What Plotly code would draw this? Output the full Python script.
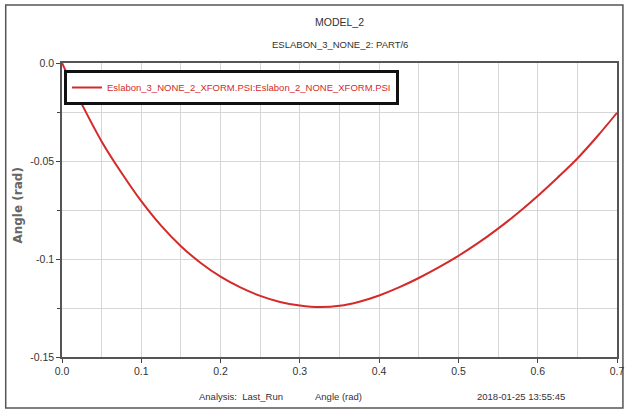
import plotly.graph_objects as go

# Data
angle_x = [0.0, 0.025, 0.05, 0.075, 0.1, 0.125, 0.15, 0.175, 0.2, 0.225, 0.25, 0.275,
           0.3, 0.325, 0.35, 0.375, 0.4, 0.425, 0.45, 0.475, 0.5, 0.525, 0.55, 0.575,
           0.6, 0.625, 0.65, 0.675, 0.7]
angle_y = [0.0, -0.0210, -0.0400, -0.0560, -0.0705, -0.0830, -0.0935, -0.1020, -0.1090,
           -0.1145, -0.1188, -0.1219, -0.1237, -0.1245, -0.1239, -0.1218, -0.1186,
           -0.1145, -0.1097, -0.1043, -0.0984, -0.0918, -0.0845, -0.0765, -0.0678,
           -0.0585, -0.0487, -0.0375, -0.0254]
series_name = "Eslabon_3_NONE_2_XFORM.PSI:Eslabon_2_NONE_XFORM.PSI"
x_ticks = [0.0, 0.1, 0.2, 0.3, 0.4, 0.5, 0.6, 0.7]
x_tick_labels = ["0.0", "0.1", "0.2", "0.3", "0.4", "0.5", "0.6", "0.7"]
y_ticks = [0.0, -0.05, -0.1, -0.15]
y_tick_labels = ["0.0", "-0.05", "-0.1", "-0.15"]

NARROW = "Liberation Sans Narrow, Arial Narrow, Liberation Sans, Arial, sans-serif"
TXT = "#333333"

fig = go.Figure()
fig.add_trace(go.Scatter(
    x=angle_x, y=angle_y, mode="lines", name=series_name,
    line=dict(color="#d42a2a", width=2, shape="spline", smoothing=1.0),
))

W, H = 631, 411
L, R, T, B = 62, 7, 63, 54
pw, ph = W - L - R, H - T - B

def px_x(p):
    return (p - L) / pw

def px_y(p):
    return (H - B - p) / ph

def note(text, x, y, size=9.5, angle=0, family=NARROW, color=TXT):
    return dict(text=text, x=px_x(x), y=px_y(y), xref="paper", yref="paper",
                xanchor="center", yanchor="middle", textangle=angle, showarrow=False,
                font=dict(family=family, size=size, color=color))

fig.update_layout(
    width=W, height=H,
    margin=dict(l=L, r=R, t=T, b=B),
    paper_bgcolor="white", plot_bgcolor="white",
    font=dict(family=NARROW, size=11, color=TXT),
    showlegend=True,
    legend=dict(
        x=px_x(64), y=px_y(70), xanchor="left", yanchor="top",
        bgcolor="white", bordercolor="#111111", borderwidth=3,
        font=dict(family=NARROW, size=9.5, color="#d42a2a"),
        itemwidth=30,
    ),
    xaxis=dict(
        range=[0, 0.7], tickvals=x_ticks, ticktext=x_tick_labels,
        showgrid=True, gridcolor="#d6d6d6", gridwidth=1,
        minor=dict(dtick=0.05, showgrid=True, gridcolor="#d6d6d6", ticks=""),
        ticks="outside", ticklen=4, tickcolor="#444444",
        showline=True, linecolor="#555555", linewidth=1.5, mirror=True,
        zeroline=False, tickfont=dict(family=NARROW, size=10.5, color=TXT),
    ),
    yaxis=dict(
        range=[-0.15, 0.0], tickvals=y_ticks, ticktext=y_tick_labels,
        showgrid=True, gridcolor="#d6d6d6", gridwidth=1,
        minor=dict(dtick=0.025, showgrid=True, gridcolor="#d6d6d6",
                   ticks="outside", ticklen=3, tickcolor="#444444"),
        ticks="outside", ticklen=4, tickcolor="#444444",
        showline=True, linecolor="#555555", linewidth=1.5, mirror=True,
        zeroline=False, tickfont=dict(family=NARROW, size=10.5, color=TXT),
    ),
    annotations=[
        note("MODEL_2", 343, 22, size=10.5),
        note("ESLABON_3_NONE_2: PART/6", 343, 45, size=9.5),
        note("<b>Angle (rad)</b>", 17, 206, size=12, angle=-90,
             family="DejaVu Sans, sans-serif", color="#666666"),
        note("Analysis:  Last_Run", 243, 396),
        note("Angle (rad)", 342, 396),
        note("2018-01-25 13:55:45", 527, 396),
    ],
    shapes=[
        dict(type="rect", xref="paper", yref="paper",
             x0=px_x(5), x1=px_x(630), y0=px_y(408), y1=px_y(5),
             line=dict(color="#555555", width=1.5), fillcolor="rgba(0,0,0,0)", layer="below"),
    ],
)

fig.write_html("out.html")
